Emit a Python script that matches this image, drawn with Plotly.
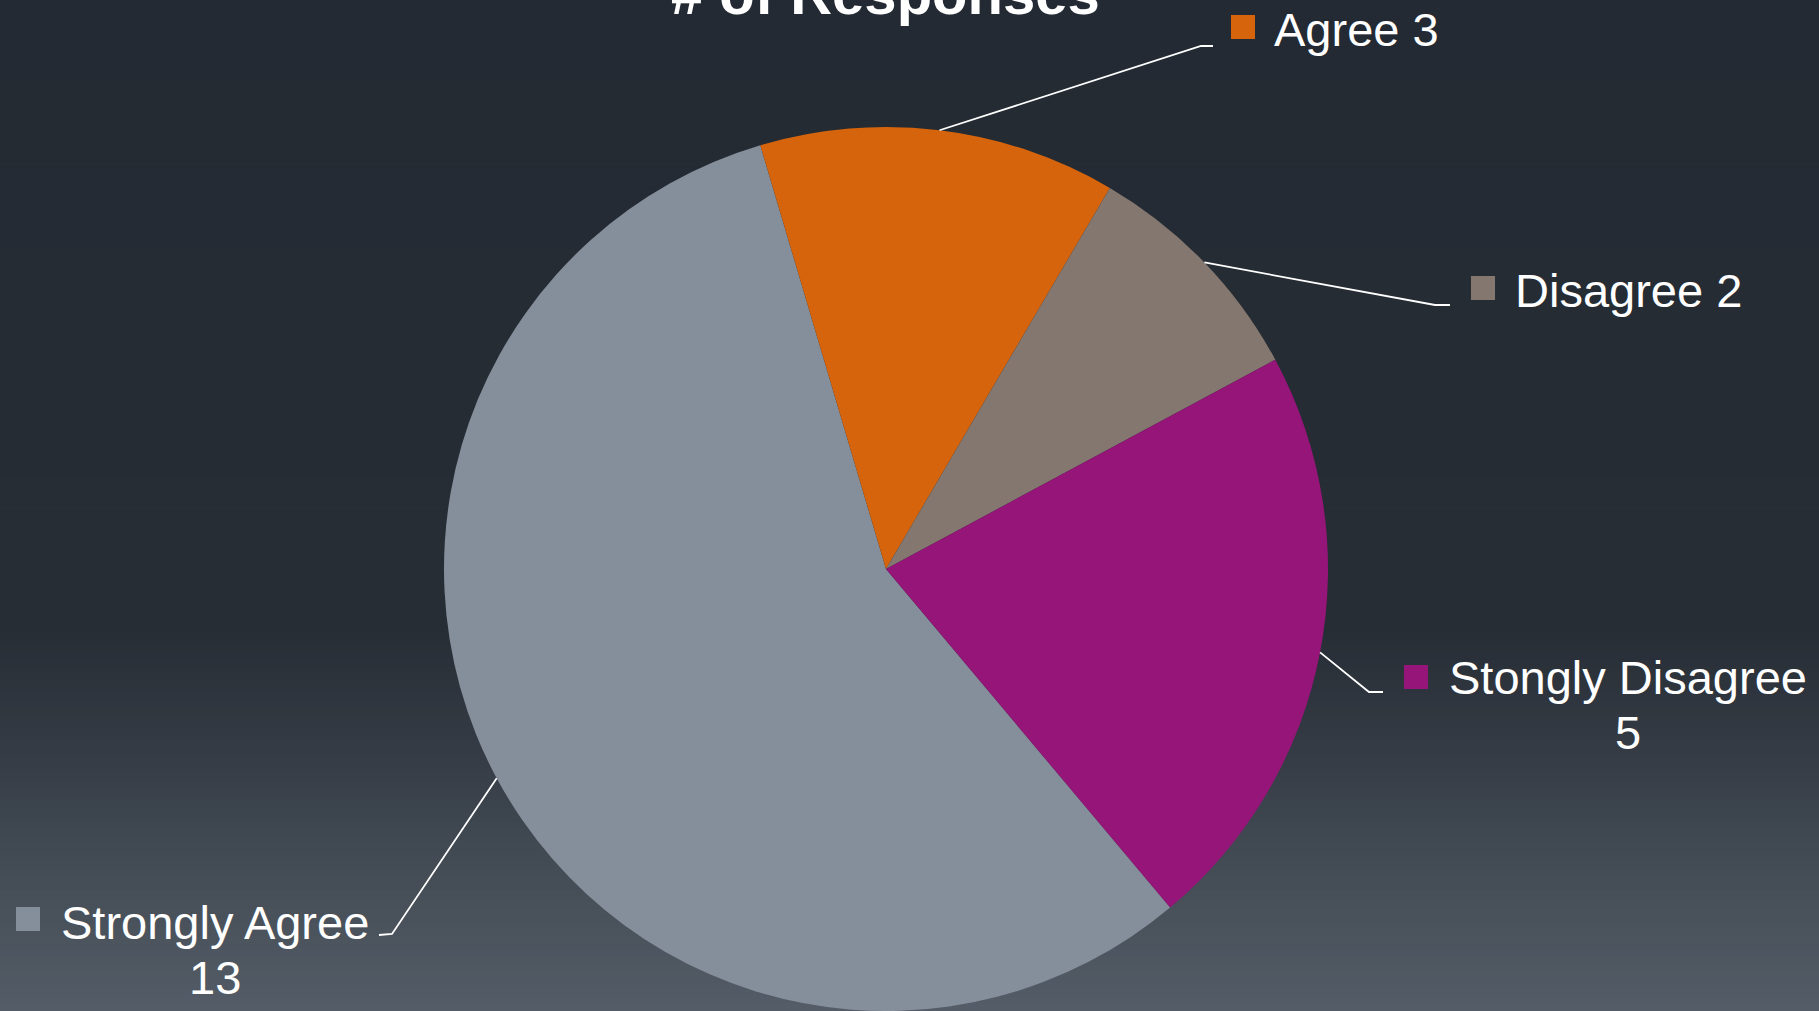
import math
import plotly.graph_objects as go

# ---- data ----
categories = ["Strongly Agree", "Agree", "Disagree", "Stongly Disagree"]
responses = [13, 3, 2, 5]
slice_colors = ["#858e9b", "#d5640c", "#84776f", "#951578"]
title_text = "# of Responses"

# ---- layout config (pixels) ----
W, H = 1819, 1011
PIE_CX, PIE_CY, PIE_R = 886, 569, 442
ROTATION = 140
FONT = "Liberation Sans, Arial, sans-serif"
LABEL_SIZE = 47

# label placement: (elbow point, line end, square center, text center x, line y's)
label_layout = {
    "Strongly Agree": dict(elbow=(392, 934), end=(379, 935), sq=(28, 919), tx=215, ty=[922, 977]),
    "Agree": dict(elbow=(1201, 46), end=(1213, 46), sq=(1243, 27), tx=1356, ty=[29]),
    "Disagree": dict(elbow=(1435, 305), end=(1450, 305), sq=(1483, 288), tx=1628, ty=[290]),
    "Stongly Disagree": dict(elbow=(1369, 692), end=(1383, 692), sq=(1416, 677), tx=1628, ty=[677, 732]),
}


def px(x):
    return x / W


def py(y):
    return 1 - y / H


def clamp(v):
    return min(1.0, max(0.0, v))


fig = go.Figure()
fig.add_trace(go.Pie(
    labels=categories,
    values=responses,
    sort=False,
    direction="clockwise",
    rotation=ROTATION,
    marker=dict(colors=slice_colors, line=dict(width=0)),
    textinfo="none",
    showlegend=False,
    domain=dict(x=[clamp(px(PIE_CX - PIE_R)), clamp(px(PIE_CX + PIE_R))],
                y=[clamp(py(PIE_CY + PIE_R)), clamp(py(PIE_CY - PIE_R))]),
))

shapes = []
# gradient background bands
stops = [(0.0, (35, 42, 51)), (0.33, (37, 44, 52)), (0.62, (39, 45, 53)),
         (0.74, (52, 59, 68)), (0.84, (65, 73, 82)), (1.0, (84, 93, 103))]


def grad(t):
    for (t0, c0), (t1, c1) in zip(stops[:-1], stops[1:]):
        if t0 <= t <= t1:
            f = (t - t0) / (t1 - t0) if t1 > t0 else 0
            return tuple(round(a + (b - a) * f) for a, b in zip(c0, c1))
    return stops[-1][1]


N = 150
for i in range(N):
    t = (i + 0.5) / N
    c = grad(t)
    shapes.append(dict(type="rect", xref="paper", yref="paper", layer="below",
                       x0=0, x1=1, y0=1 - (i + 1) / N - 0.001, y1=1 - i / N + 0.001,
                       fillcolor="rgb(%d,%d,%d)" % c, line=dict(width=0)))

total = sum(responses)
annotations = []
cum = 0
for cat, val, col in zip(categories, responses, slice_colors):
    mid = math.radians(ROTATION + 360 * (cum + val / 2) / total)
    cum += val
    sx = PIE_CX + PIE_R * math.sin(mid)
    sy = PIE_CY - PIE_R * math.cos(mid)
    L = label_layout[cat]
    ex, ey = L["elbow"]
    fx, fy = L["end"]
    shapes.append(dict(type="path", xref="paper", yref="paper",
                       path="M %f %f L %f %f L %f %f" % (px(sx), py(sy), px(ex), py(ey), px(fx), py(fy)),
                       line=dict(color="white", width=1.8)))
    qx, qy = L["sq"]
    shapes.append(dict(type="rect", xref="paper", yref="paper",
                       x0=px(qx - 12), x1=px(qx + 12), y0=py(qy + 12), y1=py(qy - 12),
                       fillcolor=col, line=dict(width=0)))
    if len(L["ty"]) == 1:
        lines = ["%s %d" % (cat, val)]
    else:
        lines = [cat, str(val)]
    for txt, yy in zip(lines, L["ty"]):
        annotations.append(dict(text=txt, x=px(L["tx"]), y=py(yy), xref="paper", yref="paper",
                                xanchor="center", yanchor="middle", showarrow=False,
                                font=dict(family=FONT, size=LABEL_SIZE, color="white")))

annotations.append(dict(text="<b>%s</b>" % title_text, x=px(885), y=py(-7), xref="paper", yref="paper",
                        xanchor="center", yanchor="middle", showarrow=False,
                        font=dict(family=FONT, size=58, color="white")))

fig.update_layout(
    width=W, height=H,
    margin=dict(l=0, r=0, t=0, b=0),
    paper_bgcolor="#262c34",
    plot_bgcolor="#262c34",
    shapes=shapes,
    annotations=annotations,
    showlegend=False,
)

fig.write_html("out.html", config={"displayModeBar": False},
               post_script="document.body.style.margin='0';document.body.style.background='#262c34';")
